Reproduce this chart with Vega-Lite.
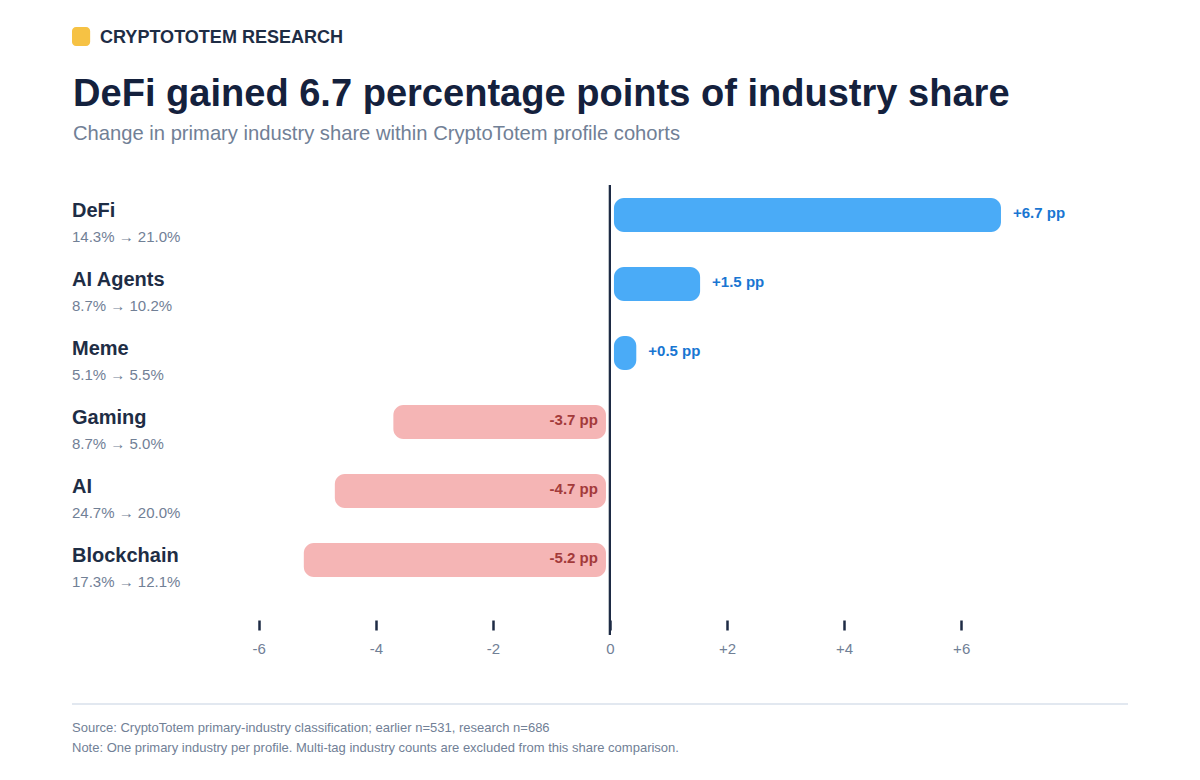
{
  "$schema": "https://vega.github.io/schema/vega-lite/v6.json",
  "width": 1056,
  "height": 450,
  "autosize": {"type": "none"},
  "padding": {"left": 72, "top": 185, "right": 72, "bottom": 145},
  "background": "#ffffff",
  "config": {
    "font": "Liberation Sans",
    "view": {"stroke": null}
  },
  "title": {
    "text": "DeFi gained 6.7 percentage points of industry share",
    "subtitle": "Change in primary industry share within CryptoTotem profile cohorts",
    "anchor": "start",
    "frame": "group",
    "dx": 1,
    "font": "Liberation Sans",
    "fontSize": 38.05,
    "fontWeight": "bold",
    "color": "#14213d",
    "subtitleFont": "Liberation Sans",
    "subtitleFontSize": 20.2,
    "subtitleColor": "#718096",
    "subtitlePadding": 10,
    "offset": -117
  },
  "data": {
    "values": [
      {"industry": "DeFi", "shares": "14.3% → 21.0%", "change": 6.68, "label": "+6.7 pp"},
      {"industry": "AI Agents", "shares": "8.7% → 10.2%", "change": 1.54, "label": "+1.5 pp"},
      {"industry": "Meme", "shares": "5.1% → 5.5%", "change": 0.45, "label": "+0.5 pp"},
      {"industry": "Gaming", "shares": "8.7% → 5.0%", "change": -3.7, "label": "-3.7 pp"},
      {"industry": "AI", "shares": "24.7% → 20.0%", "change": -4.7, "label": "-4.7 pp"},
      {"industry": "Blockchain", "shares": "17.3% → 12.1%", "change": -5.23, "label": "-5.2 pp"}
    ]
  },
  "layer": [
    {
      "mark": {"type": "rule", "color": "#1e2b45", "strokeWidth": 2},
      "encoding": {
        "x": {"datum": 0, "type": "quantitative", "scale": {"domain": [-9.19, 8.85], "nice": false, "zero": false}}
      }
    },
    {
      "encoding": {
        "y": {
          "field": "industry",
          "type": "nominal",
          "sort": null,
          "axis": null,
          "scale": {"range": [-4.5, 409.5], "paddingInner": 0.507, "paddingOuter": 0.2535}
        }
      },
      "layer": [
        {
          "transform": [{"filter": "datum.change > 0"}],
          "mark": {"type": "bar", "color": "#4aabf7", "cornerRadius": 10, "x2Offset": 4},
          "encoding": {
            "x": {
              "field": "change",
              "type": "quantitative",
              "scale": {"domain": [-9.19, 8.85], "nice": false, "zero": false},
              "axis": {
                "title": null,
                "values": [-6, -4, -2, 0, 2, 4, 6],
                "labelExpr": "datum.value > 0 ? '+' + datum.value : '' + datum.value",
                "grid": false,
                "domain": false,
                "offset": -15,
                "tickColor": "#1e2b45",
                "tickWidth": 2.5,
                "tickSize": 10,
                "labelFontSize": 15,
                "labelColor": "#718096",
                "labelPadding": 11
              }
            },
            "x2": {"datum": 0}
          }
        },
        {
          "transform": [{"filter": "datum.change < 0"}],
          "mark": {"type": "bar", "color": "#f5b5b5", "cornerRadius": 10, "x2Offset": -4},
          "encoding": {
            "x": {"field": "change", "type": "quantitative"},
            "x2": {"datum": 0}
          }
        },
        {
          "transform": [{"filter": "datum.change > 0"}],
          "mark": {"type": "text", "align": "left", "baseline": "middle", "dx": 12, "dy": -2, "fontSize": 15, "fontWeight": "bold", "color": "#1976d2"},
          "encoding": {
            "x": {"field": "change", "type": "quantitative"},
            "text": {"field": "label"}
          }
        },
        {
          "transform": [{"filter": "datum.change < 0"}],
          "mark": {"type": "text", "align": "right", "baseline": "middle", "dx": -12, "dy": -2, "fontSize": 15, "fontWeight": "bold", "color": "#a33a3a"},
          "encoding": {
            "x": {"datum": 0, "type": "quantitative"},
            "text": {"field": "label"}
          }
        },
        {
          "mark": {"type": "text", "align": "left", "baseline": "middle", "dy": -4, "fontSize": 20, "fontWeight": "bold", "color": "#1e2d45"},
          "encoding": {
            "x": {"datum": -9.19, "type": "quantitative"},
            "text": {"field": "industry"}
          }
        },
        {
          "mark": {"type": "text", "align": "left", "baseline": "middle", "dy": 22, "fontSize": 15, "color": "#718096"},
          "encoding": {
            "x": {"datum": -9.19, "type": "quantitative"},
            "text": {"field": "shares"}
          }
        },
        {
          "transform": [{"filter": "datum.industry === 'DeFi'"}],
          "mark": {"type": "bar", "color": "#f6c244", "cornerRadius": 4, "size": 19, "yOffset": -178.5},
          "encoding": {
            "x": {"datum": -9.19, "type": "quantitative"},
            "x2": {"datum": -8.88}
          }
        },
        {
          "transform": [{"filter": "datum.industry === 'DeFi'"}],
          "mark": {"type": "text", "align": "left", "baseline": "middle", "dx": 28, "dy": -177, "fontSize": 18.05, "fontWeight": "bold", "color": "#1e2d45"},
          "encoding": {
            "x": {"datum": -9.19, "type": "quantitative"},
            "text": {"value": "CRYPTOTOTEM RESEARCH"}
          }
        },
        {
          "transform": [{"filter": "datum.industry === 'Blockchain'"}],
          "mark": {"type": "rule", "color": "#e2e8f0", "strokeWidth": 2, "yOffset": 144},
          "encoding": {
            "x": {"datum": -9.19, "type": "quantitative"},
            "x2": {"datum": 8.85}
          }
        },
        {
          "transform": [{"filter": "datum.industry === 'Blockchain'"}],
          "mark": {"type": "text", "align": "left", "baseline": "middle", "dy": 168, "fontSize": 13, "color": "#718096"},
          "encoding": {
            "x": {"datum": -9.19, "type": "quantitative"},
            "text": {"value": "Source: CryptoTotem primary-industry classification; earlier n=531, research n=686"}
          }
        },
        {
          "transform": [{"filter": "datum.industry === 'Blockchain'"}],
          "mark": {"type": "text", "align": "left", "baseline": "middle", "dy": 188, "fontSize": 13, "color": "#718096"},
          "encoding": {
            "x": {"datum": -9.19, "type": "quantitative"},
            "text": {"value": "Note: One primary industry per profile. Multi-tag industry counts are excluded from this share comparison."}
          }
        }
      ]
    }
  ]
}
